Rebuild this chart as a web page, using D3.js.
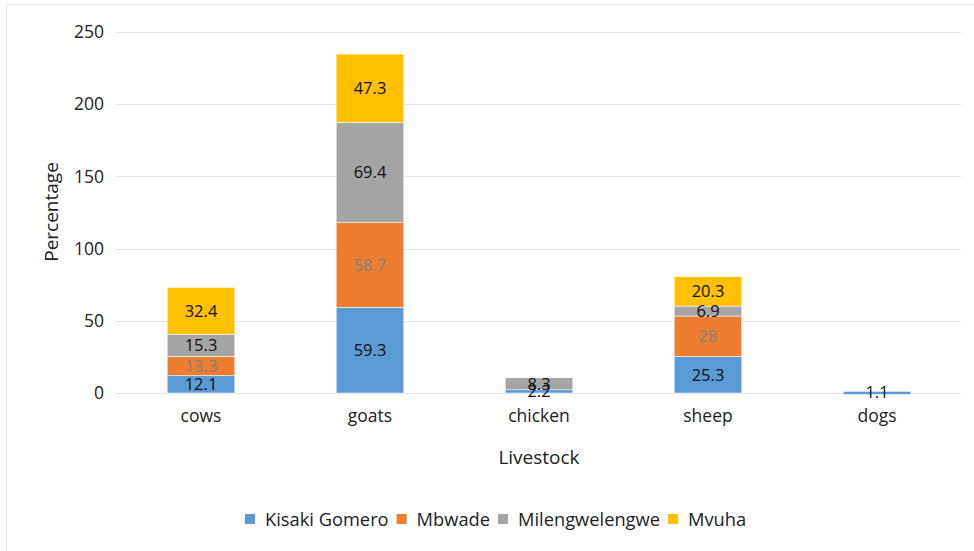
<!DOCTYPE html>
<html><head><meta charset="utf-8">
<script src="https://cdn.jsdelivr.net/npm/d3@7"></script>
<style>body{margin:0;background:#fff}svg text{font-family:"Open Sans","Noto Sans",sans-serif}</style>
</head><body>
<svg id="c" width="974" height="551"></svg>
<script>
const categories = ["cows","goats","chicken","sheep","dogs"];
const seriesNames = ["Kisaki Gomero","Mbwade","Milengwelengwe","Mvuha"];
const kisaki = [12.1, 59.3, 2.2, 25.3, 1.1];
const mbwade = [13.3, 58.7, 0, 28, 0];
const mileng = [15.3, 69.4, 8.3, 6.9, 0];
const mvuha  = [32.4, 47.3, 0, 20.3, 0];
const yTicks = [0,50,100,150,200,250];
const colors = ["#5b9bd5","#ed7d31","#a5a5a5","#ffc000"];
const labelColors = ["#111","#7f7f7f","#111","#111"];

const svg = d3.select("#c");
svg.append("rect").attr("x",6.5).attr("y",4.5).attr("width",1000).attr("height",600)
  .attr("fill","none").attr("stroke","#e6e6e6");

const x = d3.scaleBand().domain(categories).range([116.5,961.5]).paddingInner(0.6).paddingOuter(0.3);
const y = d3.scaleLinear().domain([0,250]).range([393,32]);

svg.append("g").selectAll("line").data(yTicks).join("line")
  .attr("x1",116).attr("x2",961).attr("y1",d=>Math.round(y(d))+0.5).attr("y2",d=>Math.round(y(d))+0.5)
  .attr("stroke","#e4e4e4");

const ya = svg.append("g").attr("transform","translate(104,0)")
  .call(d3.axisLeft(y).tickValues(yTicks).tickSize(0).tickPadding(0));
ya.select(".domain").remove();
ya.selectAll("text").attr("font-size",17.5).attr("fill","#222");

const xa = svg.append("g").attr("transform","translate(0,408)")
  .call(d3.axisBottom(x).tickSize(0).tickPadding(2));
xa.select(".domain").remove();
xa.selectAll("text").attr("font-size",17.5).attr("fill","#222");

const table = categories.map((c,i)=>({cat:c,s0:kisaki[i],s1:mbwade[i],s2:mileng[i],s3:mvuha[i]}));
const stack = d3.stack().keys(["s0","s1","s2","s3"])(table);

const g = svg.append("g");
stack.forEach((layer,li)=>{
  g.append("g").selectAll("rect").data(layer.filter(d=>d[1]-d[0]>0)).join("rect")
    .attr("x",d=>x(d.data.cat)).attr("width",x.bandwidth())
    .attr("y",d=>y(d[1])).attr("height",d=>Math.max(3,y(d[0])-y(d[1])))
    .attr("fill",colors[li]).attr("stroke","#fff").attr("stroke-width",0.5);
});
stack.forEach((layer,li)=>{
  g.append("g").selectAll("text").data(layer.filter(d=>d[1]-d[0]>0)).join("text")
    .attr("x",d=>x(d.data.cat)+x.bandwidth()/2)
    .attr("y",d=>(y(d[0])+y(d[1]))/2)
    .attr("dy","0.36em").attr("text-anchor","middle").attr("font-size",16.5)
    .attr("fill",labelColors[li])
    .text(d=>+(d[1]-d[0]).toFixed(1));
});

svg.append("text").attr("transform","translate(58,212) rotate(-90)").attr("text-anchor","middle")
  .attr("font-size",19).attr("fill","#222").text("Percentage");
svg.append("text").attr("x",539).attr("y",464).attr("text-anchor","middle")
  .attr("font-size",19).attr("fill","#222").text("Livestock");

const leg = svg.append("g");
let lx = 245;
seriesNames.forEach((n,i)=>{
  const gg = leg.append("g").attr("transform",`translate(${lx},0)`);
  gg.append("rect").attr("x",0).attr("y",514).attr("width",10).attr("height",10).attr("fill",colors[i]);
  const t = gg.append("text").attr("x",20).attr("y",526).attr("font-size",18.3).attr("fill","#222").text(n);
  lx += 20 + t.node().getComputedTextLength() + 8;
});
</script>
</body></html>
